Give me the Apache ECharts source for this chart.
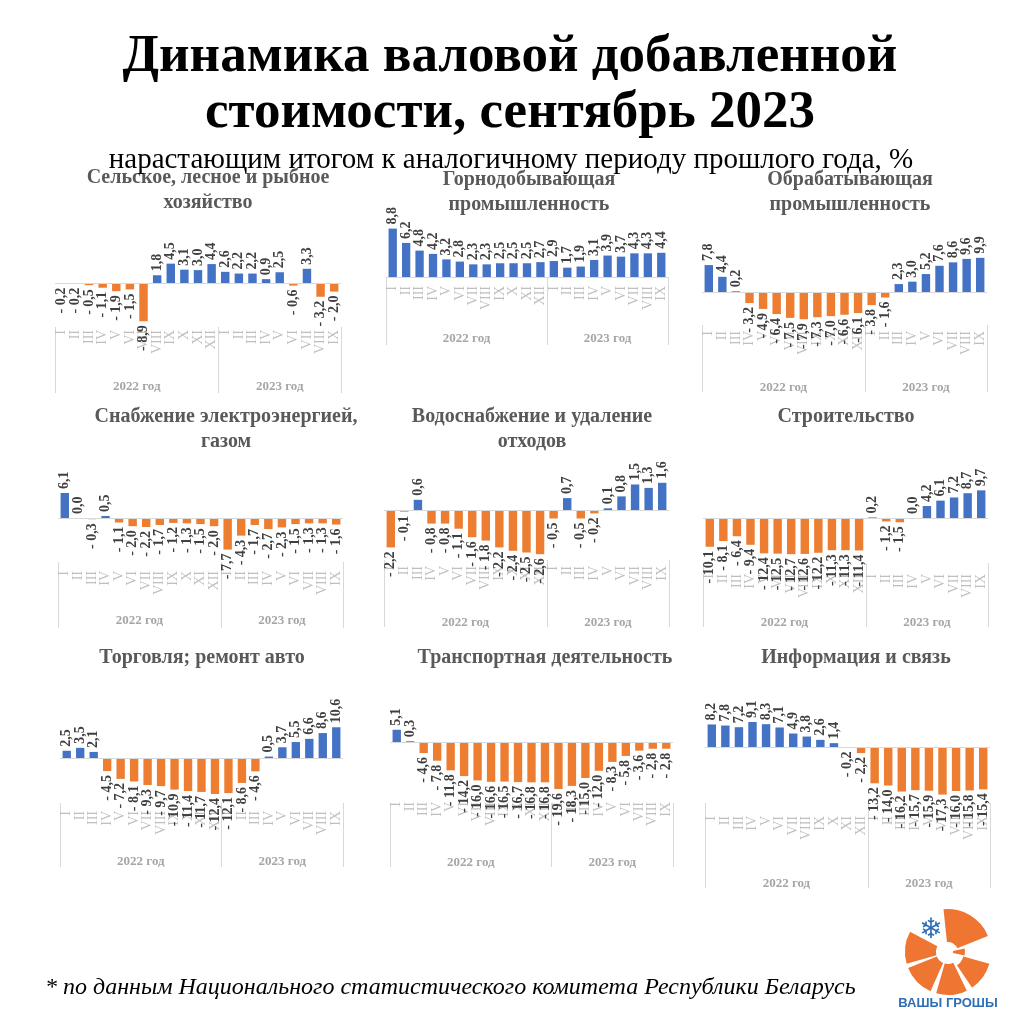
<!DOCTYPE html>
<html><head><meta charset="utf-8">
<script src="https://cdn.jsdelivr.net/npm/echarts@6/dist/echarts.min.js"></script>
<style>html,body{margin:0;padding:0;background:#fff}#c{width:1021px;height:1024px}</style>
</head><body><div id="c"></div><script>
// ---------- DATA ----------
const months2022 = ['I','II','III','IV','V','VI','VII','VIII','IX','X','XI','XII'];
const months2023 = ['I','II','III','IV','V','VI','VII','VIII','IX'];
const yearLabels = ['2022 год', '2023 год'];
const mainTitle = ['Динамика валовой добавленной', 'стоимости, сентябрь 2023'];
const subTitle = 'нарастающим итогом к аналогичному периоду прошлого года, %';
const footnote = '* по данным Национального статистического комитета Республики Беларусь';
const logoText = 'ВАШЫ ГРОШЫ';
const panelTitles = [
  'Сельское, лесное и рыбное\nхозяйство',
  'Горнодобывающая\nпромышленность',
  'Обрабатывающая\nпромышленность',
  'Снабжение электроэнергией,\nгазом',
  'Водоснабжение и удаление\nотходов',
  'Строительство',
  'Торговля; ремонт авто',
  'Транспортная деятельность',
  'Информация и связь'
];
const agriculture   = [-0.2,-0.2,-0.5,-1.1,-1.9,-1.5,-8.9,1.8,4.5,3.1,3.0,4.4, 2.6,2.2,2.2,0.9,2.5,-0.6,3.3,-3.2,-2.0];
const mining        = [8.8,6.2,4.8,4.2,3.2,2.8,2.3,2.3,2.5,2.5,2.5,2.7, 2.9,1.7,1.9,3.1,3.9,3.7,4.3,4.3,4.4];
const manufacturing = [7.8,4.4,0.2,-3.2,-4.9,-6.4,-7.5,-7.9,-7.3,-7.0,-6.6,-6.1, -3.8,-1.6,2.3,3.0,5.2,7.6,8.6,9.6,9.9];
const electricity   = [6.1,0.0,-0.3,0.5,-1.1,-2.0,-2.2,-1.7,-1.2,-1.3,-1.5,-2.0, -7.7,-4.3,-1.7,-2.7,-2.3,-1.5,-1.3,-1.3,-1.6];
const water         = [-2.2,-0.1,0.6,-0.8,-0.8,-1.1,-1.6,-1.8,-2.2,-2.4,-2.5,-2.6, -0.5,0.7,-0.5,-0.2,0.1,0.8,1.5,1.3,1.6];
const construction  = [-10.1,-8.1,-6.4,-9.4,-12.4,-12.5,-12.7,-12.6,-12.2,-11.3,-11.3,-11.4, 0.2,-1.2,-1.5,0.0,4.2,6.1,7.2,8.7,9.7];
const trade         = [2.5,3.5,2.1,-4.5,-7.2,-8.1,-9.3,-9.7,-10.9,-11.4,-11.7,-12.4, -12.1,-8.6,-4.6,0.5,3.7,5.5,6.6,8.6,10.6];
const transport     = [5.1,0.3,-4.6,-7.8,-11.8,-14.2,-16.0,-16.6,-16.5,-16.7,-16.8,-16.8, -19.6,-18.3,-15.0,-12.0,-8.3,-5.8,-3.6,-2.8,-2.8];
const ict           = [8.2,7.8,7.2,9.1,8.3,7.1,4.9,3.8,2.6,1.4,-0.2,-2.2, -13.2,-14.0,-16.2,-15.7,-15.9,-17.3,-16.0,-15.8,-15.4];
const panelValues = [agriculture, mining, manufacturing, electricity, water, construction, trade, transport, ict];

// ---------- LAYOUT (pixels) ----------
const layout = [
  {left:55,  right:341, zeroY:283, ppu:4.3,  yMin:-10, yMax:6,  monthTop:330, sepTop:327, sepBottom:393, yearY:386, titleX:208, titleY:178},
  {left:386, right:668, zeroY:277, ppu:5.5,  yMin:0,   yMax:10, monthTop:286, sepTop:277, sepBottom:345, yearY:338, titleX:529, titleY:180},
  {left:702, right:987, zeroY:292, ppu:3.45, yMin:-10, yMax:12, monthTop:331, sepTop:325, sepBottom:392, yearY:387, titleX:850, titleY:180},
  {left:58,  right:343, zeroY:518, ppu:4.1,  yMin:-8,  yMax:8,  monthTop:571, sepTop:562, sepBottom:628, yearY:620, titleX:226, titleY:417},
  {left:384, right:669, zeroY:510, ppu:17,   yMin:-3,  yMax:2,  monthTop:566, sepTop:560, sepBottom:627, yearY:622, titleX:532, titleY:417},
  {left:703, right:988, zeroY:518, ppu:2.85, yMin:-14, yMax:12, monthTop:574, sepTop:563, sepBottom:627, yearY:622, titleX:846, titleY:417},
  {left:60,  right:343, zeroY:758, ppu:2.9,  yMin:-14, yMax:12, monthTop:811, sepTop:803, sepBottom:867, yearY:861, titleX:202, titleY:658},
  {left:390, right:673, zeroY:742, ppu:2.4,  yMin:-20, yMax:8,  monthTop:802, sepTop:803, sepBottom:867, yearY:862, titleX:545, titleY:658},
  {left:705, right:990, zeroY:747, ppu:2.75, yMin:-18, yMax:10, monthTop:816, sepTop:803, sepBottom:888, yearY:883, titleX:856, titleY:658}
];

const BLUE = '#4472C4', ORANGE = '#ED7D31';
const SERIF = '"Liberation Serif", "Times New Roman", serif';
const categories = months2022.concat(months2023);
const n2022 = months2022.length, nAll = categories.length;

function fmt(v) {
  const s = Math.abs(v).toFixed(1).replace('.', ',');
  return v < 0 ? '- ' + s : s;
}

const grids = [], xAxes = [], yAxes = [], series = [], graphics = [];

layout.forEach((L, i) => {
  const top = L.zeroY - L.yMax * L.ppu;
  const bottom = L.zeroY - L.yMin * L.ppu;
  grids.push({left: L.left, top: top, width: L.right - L.left, height: bottom - top, containLabel: false});
  xAxes.push({
    gridIndex: i, type: 'category', data: categories, position: 'bottom',
    axisLine: {show: false, onZero: false}, axisTick: {show: false},
    axisLabel: {interval: 0, rotate: 90, margin: L.monthTop - bottom, color: '#bfbfbf',
                fontFamily: SERIF, fontSize: 14}
  });
  xAxes.push({
    gridIndex: i, type: 'value', min: 0, max: nAll, position: 'bottom',
    offset: L.sepBottom - bottom,
    axisLine: {show: false, onZero: false}, splitLine: {show: false},
    axisTick: {show: true, inside: true, length: L.sepBottom - L.sepTop,
               customValues: [0, n2022, nAll], lineStyle: {color: '#d9d9d9', width: 1}},
    axisLabel: {inside: true, margin: L.sepBottom - (L.yearY + 7),
                customValues: [n2022 / 2, n2022 + (nAll - n2022) / 2],
                formatter: v => (v < n2022 ? yearLabels[0] : yearLabels[1]),
                color: '#a6a6a6', fontFamily: SERIF, fontSize: 13, fontWeight: 'bold'}
  });
  yAxes.push({gridIndex: i, type: 'value', min: L.yMin, max: L.yMax, show: false});
  const items = panelValues[i].map(v => ({
    value: v,
    itemStyle: {color: v >= 0 ? BLUE : ORANGE},
    label: v >= 0
      ? {position: 'top', align: 'left', verticalAlign: 'middle'}
      : {position: 'bottom', align: 'right', verticalAlign: 'middle'}
  }));
  series.push({
    type: 'bar', xAxisIndex: 2 * i, yAxisIndex: i, data: items,
    barCategoryGap: '38%',
    label: {show: true, rotate: 90, distance: 4, formatter: p => fmt(p.value),
            color: '#404040', fontFamily: SERIF, fontSize: 14, fontWeight: 'bold'},
    markLine: {silent: true, symbol: 'none', label: {show: false},
               lineStyle: {color: '#d9d9d9', width: 1, type: 'solid'},
               data: [{yAxis: 0}]}
  });
  graphics.push({
    type: 'text', silent: true,
    style: {text: panelTitles[i], x: L.titleX, y: L.titleY - 12.5, align: 'center', verticalAlign: 'top',
            lineHeight: 25, fill: '#595959', font: 'bold 20px ' + SERIF}
  });
});

// main title, subtitle, footnote
graphics.push({type: 'text', silent: true, style: {text: mainTitle[0], x: 510, y: 57, align: 'center', verticalAlign: 'middle', fill: '#000', font: 'bold 53px ' + SERIF}});
graphics.push({type: 'text', silent: true, style: {text: mainTitle[1], x: 510, y: 113, align: 'center', verticalAlign: 'middle', fill: '#000', font: 'bold 53px ' + SERIF}});
graphics.push({type: 'text', silent: true, style: {text: subTitle, x: 511, y: 160, align: 'center', verticalAlign: 'middle', fill: '#000', font: '29px ' + SERIF}});
graphics.push({type: 'text', silent: true, style: {text: footnote, x: 45, y: 988, align: 'left', verticalAlign: 'middle', fill: '#000', font: 'italic 24px ' + SERIF}});

// logo
const LCX = 948, LCY = 952, LR = 43;
const deg = d => d * Math.PI / 180;
[[-96, -22, 10], [16, 56, 16], [64, 106, 12], [114, 158, 12], [164, 208, 12]].forEach(a => {
  graphics.push({type: 'sector', silent: true,
    shape: {cx: LCX, cy: LCY, r0: a[2], r: LR, startAngle: deg(a[0]), endAngle: deg(a[1])},
    style: {fill: '#EF7632'}});
});
graphics.push({type: 'sector', silent: true,
  shape: {cx: LCX, cy: LCY, r0: 5, r: 17, startAngle: deg(-12), endAngle: deg(12)}, style: {fill: '#EF7632'}});
graphics.push({type: 'text', silent: true, style: {text: '❄', x: LCX - 17, y: LCY - 21, align: 'center', verticalAlign: 'middle', fill: '#2F6EB5', font: '28px "DejaVu Sans"'}});
graphics.push({type: 'text', silent: true, style: {text: logoText, x: LCX, y: 1003, align: 'center', verticalAlign: 'middle', fill: '#2F6EB5', font: 'bold 13px "Liberation Sans", sans-serif'}});

const chart = echarts.init(document.getElementById('c'), null, {renderer: 'canvas'});
chart.setOption({
  animation: false,
  backgroundColor: '#ffffff',
  grid: grids, xAxis: xAxes, yAxis: yAxes, series: series, graphic: graphics
});
</script></body></html>
